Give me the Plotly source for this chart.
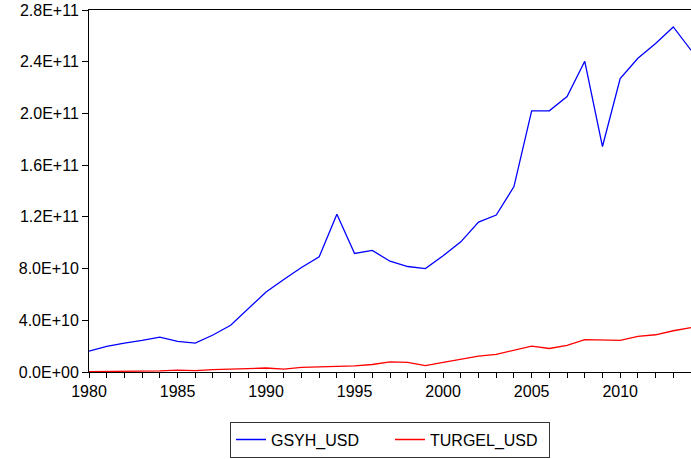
import plotly.graph_objects as go

years = list(range(1980, 2015))
gsyh_usd = [1.61e10, 1.98e10, 2.24e10, 2.44e10, 2.70e10, 2.37e10, 2.24e10, 2.86e10, 3.61e10, 4.90e10,
            6.19e10, 7.15e10, 8.08e10, 8.91e10, 12.2e10, 9.17e10, 9.40e10, 8.57e10, 8.16e10, 8.00e10,
            8.99e10, 10.07e10, 11.6e10, 12.14e10, 14.34e10, 20.2e10, 20.2e10, 21.3e10, 24.03e10, 17.44e10,
            22.69e10, 24.27e10, 25.41e10, 26.69e10, 24.89e10]
turgel_usd = [0.03e10, 0.03e10, 0.03e10, 0.04e10, 0.08e10, 0.14e10, 0.10e10, 0.18e10, 0.23e10, 0.26e10,
              0.31e10, 0.23e10, 0.36e10, 0.39e10, 0.44e10, 0.47e10, 0.58e10, 0.79e10, 0.74e10, 0.50e10,
              0.74e10, 0.99e10, 1.23e10, 1.36e10, 1.67e10, 2.00e10, 1.82e10, 2.06e10, 2.50e10, 2.47e10,
              2.44e10, 2.75e10, 2.88e10, 3.19e10, 3.43e10]
y_tickvals = [0, 4e10, 8e10, 1.2e11, 1.6e11, 2.0e11, 2.4e11, 2.8e11]
y_ticktext = ["0.0E+00", "4.0E+10", "8.0E+10", "1.2E+11", "1.6E+11", "2.0E+11", "2.4E+11", "2.8E+11"]
x_tickvals = [1980, 1985, 1990, 1995, 2000, 2005, 2010]

fig = go.Figure()
fig.add_trace(go.Scatter(x=years, y=gsyh_usd, mode="lines", name="GSYH_USD",
                         line=dict(color="#0000FF", width=1.3)))
fig.add_trace(go.Scatter(x=years, y=turgel_usd, mode="lines", name="TURGEL_USD",
                         line=dict(color="#FF0000", width=1.3)))

fig.update_layout(
    width=691, height=459,
    margin=dict(l=89, r=0, t=10, b=87, autoexpand=False),
    paper_bgcolor="white", plot_bgcolor="white",
    font=dict(family="Liberation Sans, Arial", size=16, color="black"),
    showlegend=True,
    legend=dict(orientation="h", x=0.5, xanchor="center", y=-0.137, yanchor="top",
                bordercolor="#333333", borderwidth=1, font=dict(size=16),
                bgcolor="white", itemwidth=30, entrywidth=114),
    xaxis=dict(range=[1980, 2014], tickvals=x_tickvals, ticktext=[str(v) for v in x_tickvals],
               tickfont=dict(size=16),
               ticks="outside", ticklen=5, tickcolor="black", showgrid=False, zeroline=False,
               showline=True, linecolor="black", linewidth=1, mirror=True,
               minor=dict(dtick=1, tick0=1980, ticks="outside", ticklen=5, tickcolor="black", showgrid=False)),
    yaxis=dict(range=[0, 2.8e11], tickvals=y_tickvals, ticktext=y_ticktext,
               tickfont=dict(size=16),
               ticks="outside", ticklen=6, tickcolor="black", showgrid=False, zeroline=False,
               showline=True, linecolor="black", linewidth=1),
)

fig.write_html("out.html", config={"displayModeBar": False},
               post_script="document.body.style.margin='0';document.body.style.overflow='hidden';")
